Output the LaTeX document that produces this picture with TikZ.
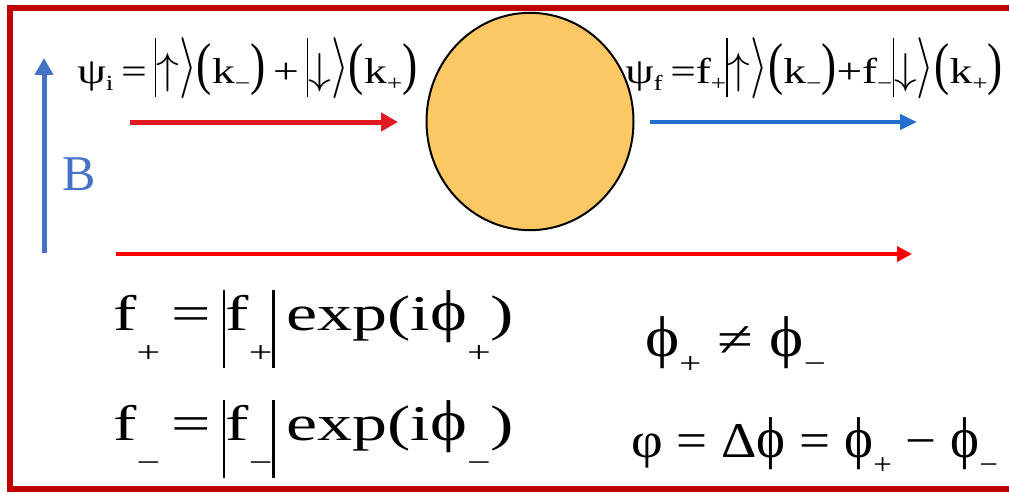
\RequirePackage{fix-cm}
\documentclass[tikz,border=0pt]{standalone}
\usepackage{fontspec}
\setmainfont{Liberation Serif}
\usepackage{graphicx}
\usetikzlibrary{arrows.meta}
\definecolor{framered}{RGB}{192,0,0}
\definecolor{ballfill}{RGB}{252,200,100}
\definecolor{inred}{RGB}{225,25,35}
\definecolor{outblue}{RGB}{35,110,205}
\definecolor{bblue}{RGB}{68,114,196}
\definecolor{longred}{RGB}{255,0,0}
\newcommand\lo[2][0.2em]{\raisebox{-#1}{\scalebox{0.6}{#2}}}
\newcommand\tbar{\rule[-0.39em]{1.3pt}{1.64em}}
\newcommand\tpar[1]{\scalebox{1}[1.6]{#1}}
\newcommand\trang{\scalebox{1}[1.7]{$\rangle$}}
\newcommand\tup{\scalebox{1}[1.2]{$\uparrow$}}
\newcommand\tdown{\scalebox{1}[1.2]{$\downarrow$}}
\newcommand\bbar{\rule[-0.76em]{1.7pt}{1.56em}}
\newcommand\sphi{\scalebox{1}[1.15]{ϕ}}
\begin{document}
\begin{tikzpicture}[x=1pt,y=-1pt,
  eq/.style={anchor=base west,inner sep=0pt},
  topeq/.style={eq,font=\fontsize{36}{42}\selectfont},
  boteq/.style={eq,font=\fontsize{50}{58}\selectfont},
  beam/.style={-{Triangle[length=17pt,width=18pt]}}]
\useasboundingbox (0,0) rectangle (1009,495);
\clip (0,0) rectangle (1009,495);
\draw[framered,line width=6pt] (10,8) rectangle (1040,489);
\node[draw=black,line width=2pt,fill=ballfill,circle,inner sep=0pt,
      minimum size=207pt,yscale=1.05] (ball) at (530,121.5) {};
\node[topeq,xscale=1.27] (psii) at (77,83)
  {ψ\lo{i}\,=\,\tbar\tup\trang\tpar{(}k\lo{−}\tpar{)}\,+\,\tbar\tdown\trang\tpar{(}k\lo{+}\tpar{)}};
\node[topeq,xscale=1.26] (psif) at (625,83)
  {ψ\lo{f}\,=f\lo{+}\tbar\tup\trang\tpar{(}k\lo{−}\tpar{)}+f\lo{−}\tbar\tdown\trang\tpar{(}k\lo{+}\tpar{)}};
\node[eq,font=\fontsize{50}{56}\selectfont,text=bblue] (B) at (62,190) {B};
\node[boteq,xscale=1.4] (fp) at (113,330)
  {f\lo[0.65em]{+}\,=\,\bbar f\lo[0.65em]{+}\bbar\,exp(i\sphi\lo[0.65em]{+})};
\node[boteq,xscale=1.4] (fm) at (113,440)
  {f\lo[0.65em]{−}\,=\,\bbar f\lo[0.65em]{−}\bbar\,exp(i\sphi\lo[0.65em]{−})};
\node[boteq,xscale=1.3] (neq) at (645,356)
  {\sphi\lo[0.35em]{+} ≠ \sphi\lo[0.35em]{−}};
\node[boteq,xscale=1.1] (dphi) at (631,457)
  {φ = Δ\sphi{} = \sphi\lo[0.35em]{+} − \sphi\lo[0.35em]{−}};
\coordinate (inS) at (130,122); \coordinate (inE) at (398,122);
\coordinate (outS) at (650,122); \coordinate (outE) at (917,122);
\coordinate (lS) at (116,254); \coordinate (lE) at (912,254);
\coordinate (bS) at (44,253); \coordinate (bE) at (44,58);
\draw[beam,inred,line width=5pt] (inS) -- (inE);
\draw[-{Triangle[length=17pt,width=15pt]},outblue,line width=4.5pt] (outS) -- (outE);
\draw[-{Triangle[length=15pt,width=15pt]},longred,line width=3.5pt] (lS) -- (lE);
\draw[beam,bblue,line width=5pt] (bS) -- (bE);
\end{tikzpicture}
\end{document}
